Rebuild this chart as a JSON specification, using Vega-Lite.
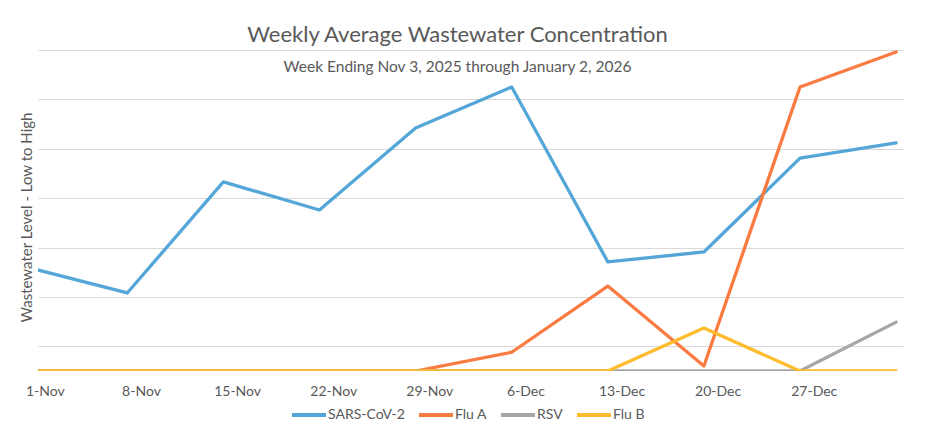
{
  "$schema": "https://vega.github.io/schema/vega-lite/v6.json",
  "autosize": {"type": "none"},
  "width": 865,
  "height": 321,
  "padding": {"left": 38, "top": 50, "right": 23, "bottom": 65},
  "background": "white",
  "title": {
    "text": "Weekly Average Wastewater Concentration",
    "subtitle": "Week Ending Nov 3, 2025 through January 2, 2026",
    "font": "Lato", "fontSize": 22, "fontWeight": "normal", "color": "#595959",
    "subtitleFont": "Lato", "subtitleFontSize": 15.5, "subtitleColor": "#595959",
    "anchor": "middle", "frame": "group", "offset": -26, "subtitlePadding": 13, "dx": -13
  },
  "data": {
    "values": [
      {"date": "2025-10-31T12:00:00", "series": "SARS-CoV-2", "level": 2.08},
      {"date": "2025-11-07T12:00:00", "series": "SARS-CoV-2", "level": 1.58},
      {"date": "2025-11-14T12:00:00", "series": "SARS-CoV-2", "level": 3.83},
      {"date": "2025-11-21T12:00:00", "series": "SARS-CoV-2", "level": 3.26},
      {"date": "2025-11-28T12:00:00", "series": "SARS-CoV-2", "level": 4.92},
      {"date": "2025-12-05T12:00:00", "series": "SARS-CoV-2", "level": 5.75},
      {"date": "2025-12-12T12:00:00", "series": "SARS-CoV-2", "level": 2.21},
      {"date": "2025-12-19T12:00:00", "series": "SARS-CoV-2", "level": 2.41},
      {"date": "2025-12-26T12:00:00", "series": "SARS-CoV-2", "level": 4.31},
      {"date": "2026-01-02T12:00:00", "series": "SARS-CoV-2", "level": 4.62},
      {"date": "2025-10-31T12:00:00", "series": "Flu A", "level": 0},
      {"date": "2025-11-07T12:00:00", "series": "Flu A", "level": 0},
      {"date": "2025-11-14T12:00:00", "series": "Flu A", "level": 0},
      {"date": "2025-11-21T12:00:00", "series": "Flu A", "level": 0},
      {"date": "2025-11-28T12:00:00", "series": "Flu A", "level": 0},
      {"date": "2025-12-05T12:00:00", "series": "Flu A", "level": 0.38},
      {"date": "2025-12-12T12:00:00", "series": "Flu A", "level": 1.72},
      {"date": "2025-12-19T12:00:00", "series": "Flu A", "level": 0.1},
      {"date": "2025-12-26T12:00:00", "series": "Flu A", "level": 5.75},
      {"date": "2026-01-02T12:00:00", "series": "Flu A", "level": 6.46},
      {"date": "2025-10-31T12:00:00", "series": "RSV", "level": 0},
      {"date": "2025-11-07T12:00:00", "series": "RSV", "level": 0},
      {"date": "2025-11-14T12:00:00", "series": "RSV", "level": 0},
      {"date": "2025-11-21T12:00:00", "series": "RSV", "level": 0},
      {"date": "2025-11-28T12:00:00", "series": "RSV", "level": 0},
      {"date": "2025-12-05T12:00:00", "series": "RSV", "level": 0},
      {"date": "2025-12-12T12:00:00", "series": "RSV", "level": 0},
      {"date": "2025-12-19T12:00:00", "series": "RSV", "level": 0},
      {"date": "2025-12-26T12:00:00", "series": "RSV", "level": 0},
      {"date": "2026-01-02T12:00:00", "series": "RSV", "level": 0.99},
      {"date": "2025-10-31T12:00:00", "series": "Flu B", "level": 0},
      {"date": "2025-11-07T12:00:00", "series": "Flu B", "level": 0},
      {"date": "2025-11-14T12:00:00", "series": "Flu B", "level": 0},
      {"date": "2025-11-21T12:00:00", "series": "Flu B", "level": 0},
      {"date": "2025-11-28T12:00:00", "series": "Flu B", "level": 0},
      {"date": "2025-12-05T12:00:00", "series": "Flu B", "level": 0},
      {"date": "2025-12-12T12:00:00", "series": "Flu B", "level": 0},
      {"date": "2025-12-19T12:00:00", "series": "Flu B", "level": 0.87},
      {"date": "2025-12-26T12:00:00", "series": "Flu B", "level": 0},
      {"date": "2026-01-02T12:00:00", "series": "Flu B", "level": 0}
    ]
  },
  "mark": {"type": "line", "strokeWidth": 3.3, "strokeJoin": "round", "strokeCap": "round", "clip": true},
  "encoding": {
    "x": {
      "field": "date", "type": "temporal",
      "scale": {"domain": [{"year": 2025, "month": 11, "date": 1}, {"year": 2026, "month": 1, "date": 3}], "nice": false},
      "axis": {
        "title": null,
        "values": [
          {"year": 2025, "month": 11, "date": 1, "hours": 12},
          {"year": 2025, "month": 11, "date": 8, "hours": 12},
          {"year": 2025, "month": 11, "date": 15, "hours": 12},
          {"year": 2025, "month": 11, "date": 22, "hours": 12},
          {"year": 2025, "month": 11, "date": 29, "hours": 12},
          {"year": 2025, "month": 12, "date": 6, "hours": 12},
          {"year": 2025, "month": 12, "date": 13, "hours": 12},
          {"year": 2025, "month": 12, "date": 20, "hours": 12},
          {"year": 2025, "month": 12, "date": 27, "hours": 12}
        ],
        "format": "%-d-%b", "labelAngle": 0, "labelFont": "Lato", "labelFontSize": 14, "labelColor": "#595959",
        "labelPadding": 13, "labelFlush": false, "labelOverlap": false, "ticks": false, "domain": false, "grid": false
      }
    },
    "y": {
      "field": "level", "type": "quantitative",
      "scale": {"domain": [0, 6.5], "nice": false, "zero": true},
      "axis": {
        "title": "Wastewater Level - Low to High", "titleFont": "Lato", "titleFontSize": 15,
        "titleFontWeight": "normal", "titleColor": "#595959", "titlePadding": 4, "titleY": 167,
        "labels": false, "ticks": false, "domain": false,
        "values": [0.5, 1.5, 2.5, 3.5, 4.5, 5.5, 6.5],
        "grid": true, "gridColor": "#D9D9D9", "gridWidth": 1
      }
    },
    "color": {
      "field": "series", "type": "nominal",
      "scale": {"domain": ["SARS-CoV-2", "Flu A", "RSV", "Flu B"], "range": ["#55A6D8", "#F97B42", "#A6A6A6", "#FDBB2D"]},
      "legend": {
        "title": null, "orient": "none", "direction": "horizontal", "legendX": 252, "legendY": 346,
        "symbolType": "stroke", "symbolSize": 1156, "symbolStrokeWidth": 4,
        "labelFont": "Lato", "labelFontSize": 14, "labelColor": "#595959",
        "labelOffset": 0, "columnPadding": 6
      }
    }
  },
  "config": {"view": {"stroke": null}}
}
